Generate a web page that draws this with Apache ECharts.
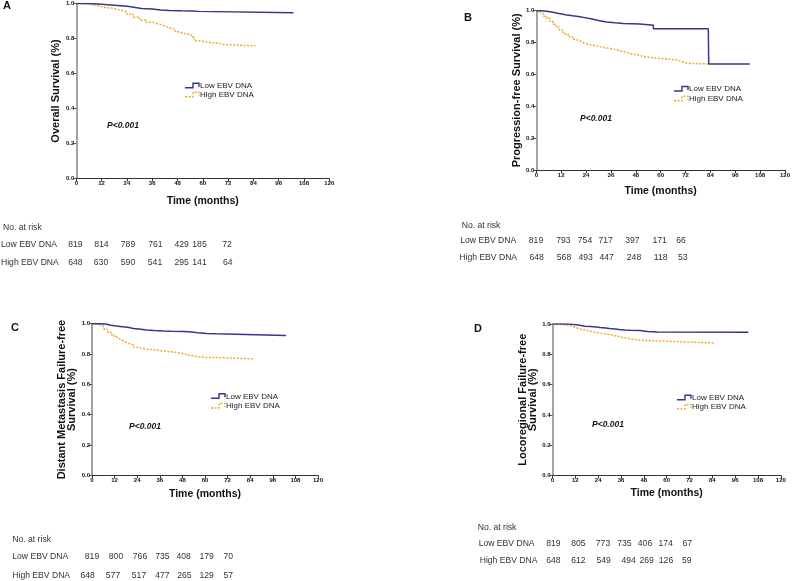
<!DOCTYPE html>
<html><head><meta charset="utf-8">
<script src="https://cdn.jsdelivr.net/npm/echarts@6/dist/echarts.min.js"></script>
<style>html,body{margin:0;padding:0;background:#fff}#c{width:793px;height:581px}</style>
</head><body><div id="c"></div>
<script>
// ---- data ----
const xTicks = [0,12,24,36,48,60,72,84,96,108,120];
const groups = ['Low EBV DNA','High EBV DNA'];
const panelLetters = ['A','B','C','D'];
const yTitles = ['Overall Survival (%)','Progression-free Survival (%)','Distant Metastasis Failure-free\nSurvival (%)','Locoregional Failure-free\nSurvival (%)'];
// [month, survival] step points
const osLow  = [[0,1],[4,0.998],[8,0.996],[12,0.993],[15,0.99],[18,0.987],[21,0.984],[24,0.981],[26,0.977],[28,0.972],[31,0.968],[36,0.963],[40,0.96],[44,0.958],[50,0.957],[55,0.955],[58,0.947],[103,0.947]];
const osHigh = [[0,1],[3,0.997],[6,0.99],[9,0.984],[11,0.977],[14,0.972],[18,0.962],[21,0.952],[24,0.939],[27,0.922],[30,0.905],[33,0.893],[36,0.886],[38,0.88],[40,0.872],[42,0.862],[44,0.852],[47,0.838],[49,0.828],[51,0.822],[54.5,0.81],[56,0.787],[58.5,0.78],[62,0.775],[65,0.772],[68,0.765],[70,0.758],[85,0.758]];
const pfsLow  = [[0,1],[2,0.996],[5,0.99],[8,0.982],[11,0.975],[14,0.968],[17.5,0.962],[21,0.955],[24,0.948],[27,0.938],[30,0.929],[34,0.924],[38,0.92],[42,0.918],[46,0.916],[50,0.912],[54,0.908],[56.5,0.887],[83,0.887],[83.2,0.665],[103,0.665]];
const pfsHigh = [[0,1],[1,0.99],[2,0.98],[3.5,0.965],[5,0.952],[6.5,0.933],[8,0.915],[9.5,0.897],[11,0.879],[12.5,0.864],[14,0.85],[16,0.833],[17.5,0.82],[19,0.81],[21,0.8],[22.5,0.792],[24,0.785],[27,0.776],[30,0.768],[33,0.761],[36.5,0.753],[39,0.745],[41,0.737],[44,0.728],[46,0.722],[49,0.715],[51,0.71],[53,0.705],[56,0.70],[60,0.695],[65,0.69],[68,0.68],[70,0.67],[73,0.665],[84,0.665]];
const dmfsLow  = [[0,1],[4.75,0.996],[8,0.99],[10,0.986],[12,0.982],[15,0.976],[19,0.969],[22,0.964],[26,0.958],[29,0.955],[33,0.952],[38,0.95],[42,0.948],[49,0.945],[53,0.94],[56,0.936],[61,0.934],[66,0.932],[67,0.923],[103,0.923]];
const dmfsHigh = [[0,1],[2,0.99],[4.75,0.98],[6.5,0.962],[8,0.945],[10,0.927],[12,0.91],[13.5,0.897],[15,0.885],[17,0.872],[19,0.86],[22,0.845],[24,0.838],[26,0.833],[29,0.828],[33,0.822],[36,0.817],[40,0.811],[45,0.802],[49,0.794],[51,0.786],[54,0.778],[60,0.777],[66,0.776],[67,0.768],[86,0.768]];
const lrfsLow  = [[0,1],[7.4,0.998],[10,0.992],[14.4,0.985],[17,0.983],[20,0.98],[23,0.977],[25,0.974],[28,0.97],[30,0.967],[33,0.964],[35,0.961],[38,0.959],[41,0.957],[46,0.954],[48,0.951],[50,0.948],[55,0.946],[103,0.946]];
const lrfsHigh = [[0,1],[4,0.993],[7.4,0.987],[10,0.975],[12.6,0.965],[15,0.96],[17,0.955],[19,0.949],[21,0.943],[24,0.937],[26,0.932],[29,0.925],[32,0.917],[35,0.91],[37,0.905],[40,0.899],[42,0.895],[45,0.892],[48,0.89],[52,0.888],[56,0.887],[60,0.885],[63,0.882],[64,0.874],[85,0.874]];
// numbers at risk
const osRiskLow   = [819,814,789,761,429,185,72];
const osRiskHigh  = [648,630,590,541,295,141,64];
const pfsRiskLow  = [819,793,754,717,397,171,66];
const pfsRiskHigh = [648,568,493,447,248,118,53];
const dmfsRiskLow  = [819,800,766,735,408,179,70];
const dmfsRiskHigh = [648,577,517,477,265,129,57];
const lrfsRiskLow  = [819,805,773,735,406,174,67];
const lrfsRiskHigh = [648,612,549,494,269,126,59];

// ---- layout ----
const BLUE = '#34378a', ORANGE = '#f6a631';
const grids = [
  {left:76.3, top:3.5, width:253, height:175},
  {left:536.3, top:10.7, width:253, height:159.3},
  {left:92, top:323.7, width:226, height:151.7},
  {left:552.5, top:324, width:228.3, height:151.5}
];
const xNameGap = [17,16,13.5,12.5];
const yNameGap = [15,14,13,12];
const series = [[osLow,osHigh],[pfsLow,pfsHigh],[dmfsLow,dmfsHigh],[lrfsLow,lrfsHigh]];

const chart = echarts.init(document.getElementById('c'), null, {renderer:'canvas'});
const xAxis = [], yAxis = [], ser = [];
grids.forEach((g,i)=>{
  xAxis.push({gridIndex:i, type:'value', min:0, max:120, interval:12,
    name:'Time (months)', nameLocation:'middle', nameGap:xNameGap[i],
    nameTextStyle:{fontFamily:'Liberation Sans, Arial', fontWeight:'bold', fontSize:10.5, color:'#111'},
    axisLine:{show:true, lineStyle:{color:'#333', width:1.2}},
    axisTick:{show:true, length:3, lineStyle:{color:'#333'}},
    axisLabel:{fontFamily:'Liberation Sans, Arial', fontWeight:'bold', fontSize:6, color:'#111', margin:2},
    splitLine:{show:false}});
  yAxis.push({gridIndex:i, type:'value', min:0, max:1, interval:0.2,
    name:yTitles[i], nameLocation:'middle', nameGap:yNameGap[i], nameRotate:90,
    nameTextStyle:{fontFamily:'Liberation Sans, Arial', fontWeight:'bold', fontSize:11, color:'#111', lineHeight:10},
    axisLine:{show:true, lineStyle:{color:'#8c8c8c', width:1.6}},
    axisTick:{show:true, length:3, lineStyle:{color:'#555'}},
    axisLabel:{fontFamily:'Liberation Sans, Arial', fontWeight:'bold', fontSize:6, color:'#111', margin:2, formatter:v=>v.toFixed(1)},
    splitLine:{show:false}});
  ser.push({type:'line', xAxisIndex:i, yAxisIndex:i, data:series[i][0], step:'end', showSymbol:false, symbol:'none', silent:true,
    lineStyle:{color:BLUE, width:1.5}, z:3});
  ser.push({type:'line', xAxisIndex:i, yAxisIndex:i, data:series[i][1], step:'end', showSymbol:false, symbol:'none', silent:true,
    lineStyle:{color:ORANGE, width:1.5, type:[2,1.5]}, z:2});
});

// graphics: letters, legends, p-values, risk tables
const gfx = [];
const F = 'Liberation Sans, Arial';
function txt(x,y,s,opt){ gfx.push({type:'text', x:x, y:y, silent:true, style:Object.assign({text:s, fill:'#111', font:'9px '+F, textVerticalAlign:'middle'},opt||{})}); }
const letterPos = [[3,6],[464,18],[11,328],[474,329]];
letterPos.forEach((p,i)=>txt(p[0],p[1],panelLetters[i],{font:'bold 11px '+F}));
const pPos = [[107,126],[580,119],[129,427],[592,425]];
pPos.forEach(p=>txt(p[0],p[1],'P<0.001',{font:'italic bold 8.5px '+F}));
const legPos = [[185,85.7,94.7],[674,89,98.7],[211,396.3,406],[677,397.7,407]];
legPos.forEach(p=>{
  [[p[1],BLUE,null],[p[2],ORANGE,[2,1.5]]].forEach((r,k)=>{
    const x0=p[0], y=r[0];
    gfx.push({type:'polyline', silent:true, shape:{points:[[x0,y+2],[x0+8,y+2],[x0+8,y-2.5],[x0+14,y-2.5],[x0+14,y+1]]},
      style:{stroke:r[1], lineWidth:1.4, fill:null, lineDash:r[2]}});
    txt(x0+15,y,groups[k],{font:'8px '+F, fill:'#222'});
  });
});
const tables = [
  {hx:3, hy:228, lx:1, ly:244.3, hx2:1, hy2:262.7, cl:[75.3,101.3,128,155.3,181.7,199.5,227], ch:[75.3,101,128,155,181.7,199.5,227.7], lo:osRiskLow, hi:osRiskHigh},
  {hx:461.7, hy:225.7, lx:460.3, ly:240.7, hx2:459.3, hy2:257.3, cl:[536,563.3,585,605.7,632.3,659.7,681], ch:[536.7,564,585.7,606.7,634,660.7,682.7], lo:pfsRiskLow, hi:pfsRiskHigh},
  {hx:12.3, hy:539.3, lx:12.3, ly:556.7, hx2:12.3, hy2:575.7, cl:[92,116,140,162.3,183.7,206.7,228.3], ch:[87.7,113,139,162.3,184.3,206.7,228.3], lo:dmfsRiskLow, hi:dmfsRiskHigh},
  {hx:477.7, hy:527.7, lx:478.7, ly:543.3, hx2:479.7, hy2:560.7, cl:[553.3,578.3,603,624.3,645,665.7,687.3], ch:[553.3,578.3,603.7,628.7,646.7,666,686.7], lo:lrfsRiskLow, hi:lrfsRiskHigh}
];
const TF = '8.6px '+F, TC = '#333';
tables.forEach(t=>{
  txt(t.hx,t.hy,'No. at risk',{font:TF, fill:TC});
  txt(t.lx,t.ly,groups[0],{font:TF, fill:TC});
  txt(t.hx2,t.hy2,groups[1],{font:TF, fill:TC});
  t.lo.forEach((v,j)=>txt(t.cl[j],t.ly,String(v),{font:TF, fill:TC, textAlign:'center'}));
  t.hi.forEach((v,j)=>txt(t.ch[j],t.hy2,String(v),{font:TF, fill:TC, textAlign:'center'}));
});

chart.setOption({
  animation:false,
  backgroundColor:'#fff',
  grid:grids.map(g=>Object.assign({containLabel:false},g)),
  xAxis:xAxis, yAxis:yAxis, series:ser, graphic:gfx
});
</script></body></html>
